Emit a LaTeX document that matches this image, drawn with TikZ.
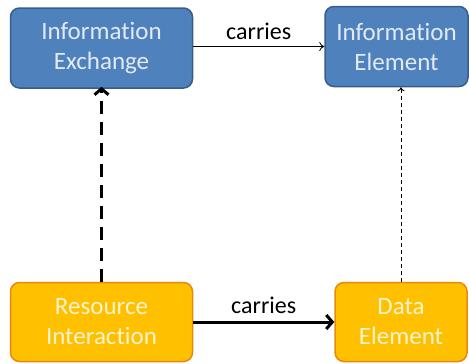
\documentclass[tikz,border=0pt]{standalone}
\usepackage{fontspec}
\setmainfont[Ligatures={NoCommon,NoRare}]{Carlito}
\usetikzlibrary{arrows.meta}

\definecolor{ivblue}{HTML}{4F81BD}
\definecolor{ivblueline}{HTML}{385D8A}
\definecolor{ivbluetext}{HTML}{E2EAF4}
\definecolor{ivorange}{HTML}{FFC000}
\definecolor{ivorangeline}{HTML}{E8890C}
\definecolor{ivorangetext}{HTML}{FFF4D0}

\tikzset{
  infobox/.style={draw=ivblueline, fill=ivblue, line width=1.5pt, rounded corners=9pt,
    text=ivbluetext, align=center, font=\fontsize{25}{30}\selectfont, inner sep=0pt},
  databox/.style={draw=ivorangeline, fill=ivorange, line width=1.5pt, rounded corners=9pt,
    text=ivorangetext, align=center, font=\fontsize{25}{30}\selectfont, inner sep=0pt},
  label/.style={font=\fontsize{24}{28}\selectfont, text=black}
}

\begin{document}
\begin{tikzpicture}[x=1pt,y=-1pt]
\useasboundingbox (0,0) rectangle (469,364);
\node[infobox, minimum width=182pt, minimum height=80pt] (IE) at (101.5,48) {Information\\Exchange};
\node[infobox, minimum width=143pt, minimum height=80pt] (IEl) at (396.5,46.5) {Information\\Element};
\node[databox, minimum width=182pt, minimum height=79pt] (RI) at (101.5,322) {Resource\\Interaction};
\node[databox, minimum width=132pt, minimum height=79pt] (DE) at (401,322) {Data\\Element};
\draw[line width=0.8pt, -{To[length=5pt,width=9pt]}] (IE.east |- IEl.west) -- (IEl.west)
  node[label, midway, above=3pt] {carries};
\draw[line width=3pt, -{Straight Barb[length=6pt,width=14pt]}] (RI.east) -- (DE.west)
  node[label, midway, above=3pt] {carries};
\draw[line width=3pt, dash pattern=on 13pt off 8pt, -{Straight Barb[length=6pt,width=14pt]}]
  (RI.north) -- ([yshift=2pt]IE.south);
\draw[line width=1pt, dash pattern=on 4pt off 3pt, -{To[length=4pt,width=7pt]}]
  (DE.north) -- (DE.north |- IEl.south);
\end{tikzpicture}
\end{document}
